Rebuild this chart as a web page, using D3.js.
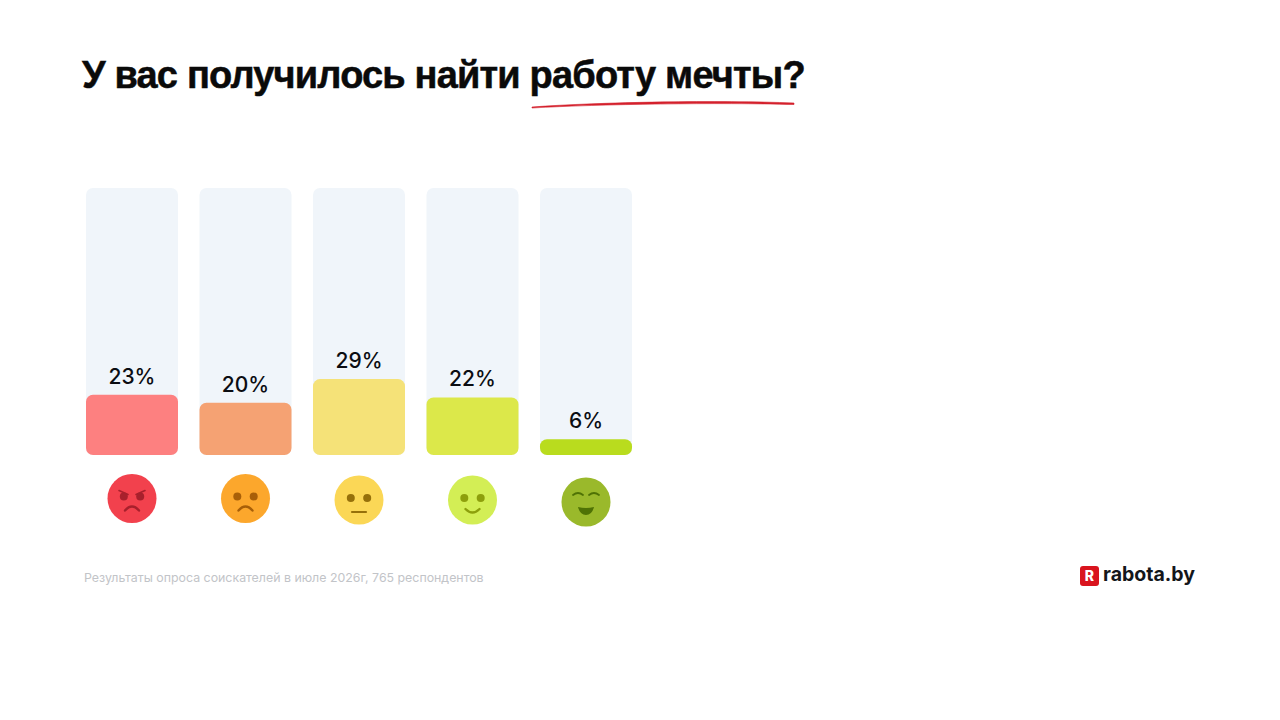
<!DOCTYPE html>
<html>
<head>
<meta charset="utf-8">
<script src="https://cdn.jsdelivr.net/npm/d3@7"></script>
<style>
  html, body { margin: 0; padding: 0; background: #fff; }
  svg { display: block; }
</style>
</head>
<body>
<svg></svg>
<script>
const categories = ["angry", "sad", "neutral", "happy", "delighted"];
const values = [23, 20, 29, 22, 6];
const barColors = ["#fd8080", "#f5a273", "#f5e278", "#dce84a", "#b9dc1e"];
const faceColors = ["#f2414d", "#fca72c", "#fbd756", "#d3ee55", "#9ab92b"];
const featureColors = ["#a8202c", "#a85f08", "#96700a", "#8d9f0c", "#4f7205"];
const titleStart = "У вас получилось найти ";
const titleAccent = "работу мечты?";
const footnote = "Результаты опроса соискателей в июле 2026г, 765 респондентов";

const w = 1280;
const h = 720;
const margin = { top: 188, bottom: 265, left: 86, right: 648 };
const chartW = w - margin.left - margin.right;
const chartH = h - margin.top - margin.bottom;

const svg = d3.select("svg").attr("width", w).attr("height", h);

const chart = svg
  .append("g")
  .attr("transform", `translate(${margin.left}, ${margin.top})`);

const xScale = d3
  .scaleBand()
  .domain(categories)
  .range([0, chartW])
  .paddingInner(0.1894);

// tracks are a bit taller than 100%
const yScale = d3
  .scaleLinear()
  .domain([0, 102])
  .range([chartH, 0]);

// background tracks
chart
  .selectAll(".track")
  .data(categories)
  .enter()
  .append("rect")
  .attr("class", "track")
  .attr("x", d => xScale(d))
  .attr("y", 0)
  .attr("width", xScale.bandwidth())
  .attr("height", chartH)
  .attr("rx", 7)
  .attr("fill", "#f0f5fa");

// bars
chart
  .selectAll(".bar")
  .data(values)
  .enter()
  .append("rect")
  .attr("class", "bar")
  .attr("x", (d, i) => xScale(categories[i]))
  .attr("y", d => yScale(d))
  .attr("width", xScale.bandwidth())
  .attr("height", d => chartH - yScale(d))
  .attr("rx", 7)
  .attr("fill", (d, i) => barColors[i]);

// value labels
chart
  .selectAll(".value")
  .data(values)
  .enter()
  .append("text")
  .attr("class", "value")
  .attr("x", (d, i) => xScale(categories[i]) + xScale.bandwidth() / 2)
  .attr("y", d => yScale(d) - 11)
  .attr("text-anchor", "middle")
  .attr("font-family", "Inter, sans-serif")
  .attr("font-size", 21)
  .attr("font-weight", 500)
  .attr("fill", "#0b0d12")
  .text(d => d + "%");

// faces under the bars
const faces = chart
  .selectAll(".face")
  .data(categories)
  .enter()
  .append("g")
  .attr("class", "face")
  .attr("transform", (d, i) => `translate(${xScale(d) + xScale.bandwidth() / 2}, ${i === 4 ? 314 : i === 0 || i === 1 ? 310.5 : 312})`);

faces
  .append("circle")
  .attr("r", 24.5)
  .attr("fill", (d, i) => faceColors[i]);

faces.each(function(d, i) {
  const g = d3.select(this);
  const c = featureColors[i];
  const line = (path, width) =>
    g.append("path")
      .attr("d", path)
      .attr("fill", "none")
      .attr("stroke", c)
      .attr("stroke-width", width)
      .attr("stroke-linecap", "round");

  if (d !== "delighted") {
    g.selectAll(".eye")
      .data([-8.2, 8.2])
      .enter()
      .append("circle")
      .attr("cx", e => e)
      .attr("cy", -2)
      .attr("r", 4)
      .attr("fill", c);
  }
  if (d === "angry") {
    line("M-13,-8 L-4,-4", 1.6);
    line("M13,-8 L4,-4", 1.6);
    line("M-7,12 Q0,4 7,12", 2.4);
  }
  if (d === "sad") line("M-7,12 Q0,4 7,12", 2.4);
  if (d === "neutral") line("M-7,12 L7,12", 2.2);
  if (d === "happy") line("M-7,9 Q0,16 7,9", 2.4);
  if (d === "delighted") {
    line("M-13,-7 Q-8,-11 -3,-7", 1.8);
    line("M3,-7 Q8,-11 13,-7", 1.8);
    g.append("path")
      .attr("d", "M-8,5 Q0,7 8,5 Q6,13 0,13 Q-6,13 -8,5 Z")
      .attr("fill", c);
  }
});

// title
const title = svg
  .append("text")
  .attr("x", 82)
  .attr("y", 88)
  .attr("font-family", "Liberation Sans, Arial, sans-serif")
  .attr("font-size", 38)
  .attr("font-weight", 700)
  .attr("letter-spacing", -0.83)
  .attr("fill", "#0a0a0a")
  .attr("stroke", "#0a0a0a")
  .attr("stroke-width", 0.5);
title.append("tspan").attr("xml:space", "preserve").text(titleStart);
title.append("tspan").text(titleAccent);

// red underline
svg
  .append("path")
  .attr("d", "M532,107 C600,102 720,100 794,103 L794,104.5 C720,102.5 600,104 532,108 Z")
  .attr("fill", "#d4202c")
  .attr("stroke", "#d4202c")
  .attr("stroke-width", 0.6);

// footnote
svg
  .append("text")
  .attr("x", 84)
  .attr("y", 582)
  .attr("font-family", "Inter, sans-serif")
  .attr("font-size", 12.37)
  .attr("fill", "#c2c4c8")
  .text(footnote);

// logo
svg
  .append("rect")
  .attr("x", 1080)
  .attr("y", 566)
  .attr("width", 19)
  .attr("height", 20)
  .attr("rx", 3)
  .attr("fill", "#d9141e");
svg
  .append("text")
  .attr("x", 1089.5)
  .attr("y", 581)
  .attr("text-anchor", "middle")
  .attr("font-family", "Inter, sans-serif")
  .attr("font-size", 14)
  .attr("font-weight", 800)
  .attr("fill", "#fff")
  .text("R");
svg
  .append("text")
  .attr("x", 1103)
  .attr("y", 581)
  .attr("font-family", "Inter, sans-serif")
  .attr("font-size", 19.5)
  .attr("font-weight", 700)
  .attr("fill", "#14161a")
  .text("rabota.by");
</script>
</body>
</html>
